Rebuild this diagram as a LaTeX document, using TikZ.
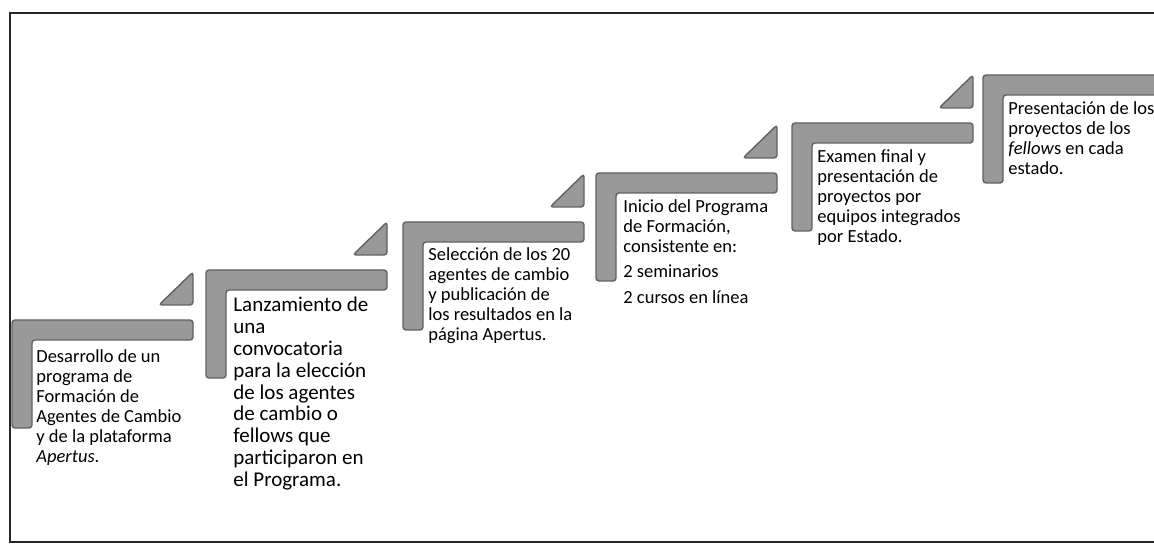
\documentclass[tikz,border=0pt]{standalone}
\usepackage{fontspec}
\setmainfont{Carlito}
\usepackage{tikz}
\usetikzlibrary{positioning}
\tikzset{>=stealth}

\begin{document}
\begin{tikzpicture}[x=0.5pt, y=-0.5pt,
	stepbar/.style={fill=black!40, draw=black!62, line width=0.7pt, rounded corners=1.5pt},
	steptip/.style={fill=black!40, draw=black!62, line width=0.7pt, rounded corners=1.5pt},
	steptext/.style={anchor=north west, inner sep=0pt, align=left, font=\fontsize{9.25}{10}\selectfont},
	bigtext/.style={steptext, font=\fontsize{10.5}{10.9}\selectfont}]

      \useasboundingbox (0,0) rectangle (1154,549);
      \draw[line width=0.6pt, black!85] (10,13) rectangle (1175,542);

      % escalones
      \draw[stepbar] (12,320) -- (193,320) -- (193,340) -- (32,340) -- (32,428) -- (12,428) -- cycle;
      \draw[stepbar] (206,270) -- (387,270) -- (387,290) -- (226,290) -- (226,378) -- (206,378) -- cycle;
      \draw[stepbar] (403,222) -- (584,222) -- (584,242) -- (423,242) -- (423,330) -- (403,330) -- cycle;
      \draw[stepbar] (596,173) -- (777,173) -- (777,193) -- (616,193) -- (616,281) -- (596,281) -- cycle;
      \draw[stepbar] (792,123) -- (973,123) -- (973,143) -- (812,143) -- (812,231) -- (792,231) -- cycle;
      \draw[stepbar] (983,75) -- (1185,75) -- (1185,95) -- (1003,95) -- (1003,183) -- (983,183) -- cycle;

      \draw[steptip] (193,305) -- (193,272) -- (159,305) -- cycle;
      \draw[steptip] (387,255) -- (387,222) -- (353,255) -- cycle;
      \draw[steptip] (584,207) -- (584,174) -- (550,207) -- cycle;
      \draw[steptip] (777,158) -- (777,125) -- (743,158) -- cycle;
      \draw[steptip] (973,108) -- (973,75) -- (939,108) -- cycle;

      % textos
      \node[steptext] (T1) at (36,349) {Desarrollo de un\\programa de\\Formación de\\Agentes de Cambio\\y de la plataforma\\\textit{Apertus}.};
      \node[bigtext]  (T2) at (233,297) {Lanzamiento de\\una\\convocatoria\\para la elección\\de los agentes\\de cambio o\\fellows que\\participaron en\\el Programa.};
      \node[steptext] (T3) at (428,247) {Selección de los 20\\agentes de cambio\\y publicación de\\los resultados en la\\página Apertus.};
      \node[steptext] (T4) at (623,199) {Inicio del Programa\\de Formación,\\consistente en:\\[2.5pt]2 seminarios\\[3pt]2 cursos en línea};
      \node[steptext] (T5) at (817,149) {Examen final y\\presentación de\\proyectos por\\equipos integrados\\por Estado.};
      \node[steptext] (T6) at (1008,101) {Presentación de los\\proyectos de los\\\textit{fellow}s en cada\\estado.};
      \end{tikzpicture}
\end{document}
